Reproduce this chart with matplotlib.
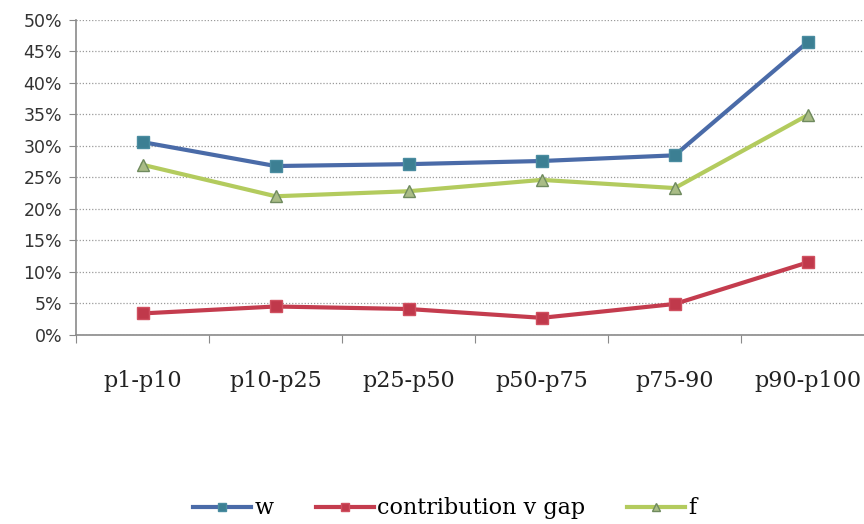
import numpy as np
import matplotlib.pyplot as plt
from matplotlib.ticker import FuncFormatter, MultipleLocator

cats = ['p1-p10', 'p10-p25', 'p25-p50', 'p50-p75', 'p75-90', 'p90-p100']
w = [30.6, 26.8, 27.1, 27.6, 28.5, 46.5]
gap = [3.4, 4.5, 4.1, 2.7, 4.9, 11.5]
f = [27.0, 22.0, 22.8, 24.6, 23.3, 34.9]

x = np.arange(len(cats))

fig = plt.figure(figsize=(8.64, 5.24), dpi=100)
ax = fig.add_axes([0.088, 0.361, 0.924, 0.601])

ax.plot(x, w, color='#4A6BA8', linewidth=3, marker='s', markersize=9,
        markerfacecolor='#3C7F93', markeredgecolor='#4A8CA0', label='w', zorder=3)
ax.plot(x, gap, color='#C43C4E', linewidth=3, marker='s', markersize=8,
        markerfacecolor='#C0394B', markeredgecolor='#D05060', label='contribution v gap', zorder=3)
ax.plot(x, f, color='#B3CB5E', linewidth=3, marker='^', markersize=9,
        markerfacecolor='#A9BC86', markeredgecolor='#6F8A5E', label='f', zorder=3)

ax.set_xlim(-0.5, 5.5)
ax.set_ylim(0, 50)
ax.yaxis.set_major_locator(MultipleLocator(5))
ax.yaxis.set_major_formatter(FuncFormatter(lambda v, p: '%d%%' % v))
ax.grid(axis='y', linestyle=(0, (1, 1.5)), color='#9A9A9A', linewidth=0.9)
ax.set_axisbelow(True)

# category boundaries as tick marks, labels centred between them
ax.set_xticks(np.arange(-0.5, 6, 1))
ax.set_xticklabels([])
ax.set_xticks(x, minor=True)
ax.set_xticklabels(cats, minor=True, fontsize=16, family='DejaVu Serif', color='#222222')
ax.tick_params(axis='x', which='minor', length=0, pad=25)
ax.tick_params(axis='x', which='major', length=6, color='#8A8A8A', direction='out')
ax.tick_params(axis='y', length=5, color='#8A8A8A', labelsize=12.5, labelcolor='#333333', pad=5)

for s in ['top', 'right']:
    ax.spines[s].set_visible(False)
for s in ['left', 'bottom']:
    ax.spines[s].set_color('#8A8A8A')
    ax.spines[s].set_linewidth(1.2)

fig.legend(loc='center', bbox_to_anchor=(0.515, 0.03), ncol=3, frameon=False,
           handlelength=2.6, columnspacing=1.9, handletextpad=0.15, markerscale=0.7,
           prop={'family': 'DejaVu Serif', 'size': 16})

fig.savefig('out.png', dpi=100)
